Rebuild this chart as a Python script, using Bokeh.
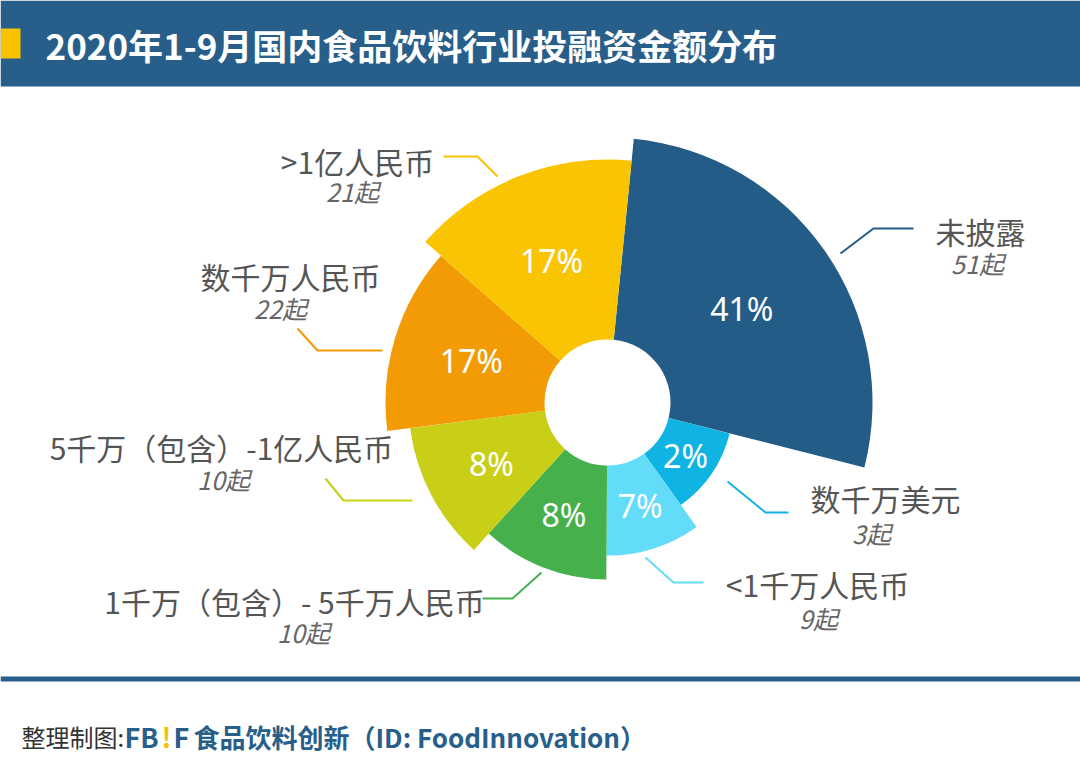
import math
from bokeh.plotting import figure
from bokeh.models import ColumnDataSource, Range1d
from bokeh.core.properties import value
from bokeh.embed import file_html
from bokeh.resources import INLINE

# ---------------- data ----------------
title_text = "2020年1-9月国内食品饮料行业投融资金额分布"
categories = ["未披露", "数千万美元", "<1千万人民币", "1千万（包含）- 5千万人民币",
              "5千万（包含）-1亿人民币", "数千万人民币", ">1亿人民币"]
deal_counts = [51, 3, 9, 10, 10, 22, 21]
share_pct = [41, 2, 7, 8, 8, 17, 17]
source_prefix = "整理制图:"
source_brand = ["FB", "!", "F"]
source_name = "食品饮料创新（ID: FoodInnovation）"

# ---------------- layout / style ----------------
W, H = 1080, 779
CX, CY = 607, 402          # pie centre (pixels from top-left)
HOLE_R = 63
START_DEG = 84.3           # first sector starts here and runs clockwise
span_deg = [98.5, 40.2, 36.0, 41.8, 40.4, 48.8, 54.3]
outer_r = [265, 126, 153, 177, 199, 222, 243]
colors = ["#245c88", "#10b4e3", "#62dcf8", "#45b04c", "#c9cf16", "#f29b05", "#f9c402"]
label_xy = [(980, 230), (885, 497), (817, 583), (294, 600), (221, 446), (290, 275), (357, 160)]
count_xy = [(977, 262), (871, 532), (818, 617), (303, 631), (223, 478), (280, 307), (352, 190)]
leaders = [
    [(840, 253), (873, 228), (913, 228)],
    [(727, 481), (765, 512), (788, 512)],
    [(645, 557), (673, 582), (703, 582)],
    [(541, 572), (512, 598), (482, 598)],
    [(325, 478), (343, 500), (412, 500)],
    [(297, 328), (317, 350), (382, 350)],
    [(443, 156), (477, 156), (497, 176)],
]
HEADER_BLUE = "#285e8a"
CJK = value("Noto Sans CJK SC")


def Y(y):
    return H - y


p = figure(width=W, height=H, x_range=Range1d(0, W), y_range=Range1d(0, H),
           output_backend="svg", toolbar_location=None, min_border=0)
p.axis.visible = False
p.grid.visible = False
p.outline_line_color = None
p.background_fill_color = "white"
p.border_fill_color = "white"

# header band, accent, separator
p.quad(left=[0], right=[W], bottom=[Y(86)], top=[Y(0)], fill_color=HEADER_BLUE, line_color=None)
p.quad(left=[0], right=[20], bottom=[Y(58)], top=[Y(28)], fill_color="#f7c300", line_color=None)
p.quad(left=[0], right=[W], bottom=[Y(681)], top=[Y(676)], fill_color=HEADER_BLUE, line_color=None)

p.text(x=[45], y=[Y(44)], text=[title_text], text_font=CJK, text_font_style="bold",
       text_font_size="35px", text_color="white", text_align="left", text_baseline="middle")

# sectors
starts, ends, mids = [], [], []
cum = 0.0
for s in span_deg:
    e_deg = START_DEG - cum
    s_deg = START_DEG - cum - s
    starts.append(math.radians(s_deg))
    ends.append(math.radians(e_deg))
    mids.append(math.radians((s_deg + e_deg) / 2))
    cum += s

src = ColumnDataSource(dict(
    x=[CX] * len(categories), y=[Y(CY)] * len(categories),
    r=outer_r, start=starts, end=ends, color=colors,
))
p.annular_wedge(x="x", y="y", inner_radius=HOLE_R, outer_radius="r",
                start_angle="start", end_angle="end", direction="anticlock",
                fill_color="color", line_color=None, source=src)

# percentage labels inside sectors
px, py = [], []
for m, r in zip(mids, outer_r):
    rr = (HOLE_R + r) / 2
    px.append(CX + rr * math.cos(m))
    py.append(Y(CY) + rr * math.sin(m))
p.text(x=px, y=py, text=[f"{v}%" for v in share_pct], text_font=value("Noto Sans"),
       text_font_size="32px", text_color="white", text_align="center", text_baseline="middle")

# leader lines
p.multi_line(xs=[[pt[0] for pt in L] for L in leaders],
             ys=[[Y(pt[1]) for pt in L] for L in leaders],
             line_color=colors, line_width=2)

# category labels and counts
p.text(x=[a for a, b in label_xy], y=[Y(b) for a, b in label_xy], text=categories,
       text_font=CJK, text_font_size="30px", text_color="#555555",
       text_align="center", text_baseline="middle")
p.text(x=[a for a, b in count_xy], y=[Y(b) for a, b in count_xy],
       text=[f"{c}起" for c in deal_counts],
       text_font=CJK, text_font_size="25px", text_font_style="italic", text_color="#666666",
       text_align="center", text_baseline="middle")

# footer
p.text(x=[21], y=[Y(736)], text=[source_prefix], text_font=CJK, text_font_size="24px",
       text_color="#333333", text_baseline="middle")
p.text(x=[124, 161, 173], y=[Y(736)] * 3, text=source_brand, text_font=CJK,
       text_font_style="bold", text_font_size="27px",
       text_color=[HEADER_BLUE, "#f7c300", HEADER_BLUE], text_baseline="middle")
p.text(x=[193], y=[Y(736)], text=[source_name], text_font=CJK, text_font_style="bold",
       text_font_size="26px", text_color=HEADER_BLUE, text_baseline="middle")

open("out.html", "w").write(file_html(p, INLINE))
